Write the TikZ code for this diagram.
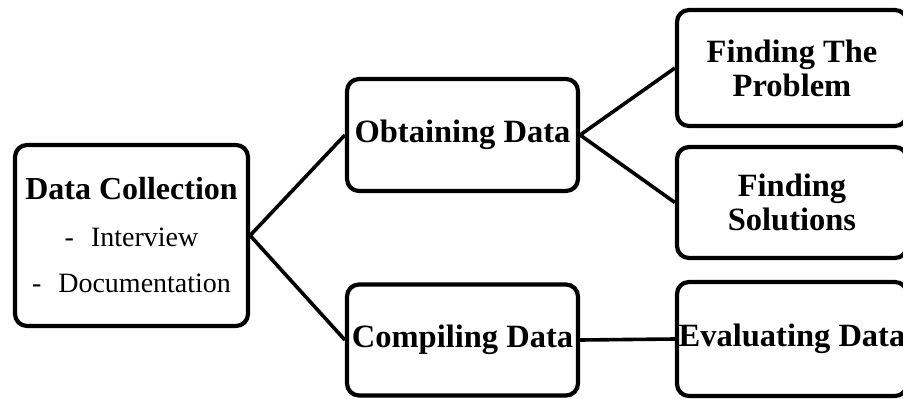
\documentclass[tikz,border=0pt]{standalone}
\usepackage{fontspec}
\setmainfont{Liberation Serif}
\begin{document}
\begin{tikzpicture}[x=1pt,y=-1pt,
  box/.style={draw=black, line width=4.2pt, rounded corners=12pt, fill=white,
    align=center, inner sep=0pt, font=\fontsize{32.5}{34}\selectfont\bfseries},
  link/.style={draw=black, line width=3.6pt}]
\useasboundingbox (0,0) rectangle (903,399);
\clip (0,0) rectangle (903,399);
\node[box, minimum width=233pt, minimum height=181pt, font=\fontsize{28}{46.5}\selectfont] (dc) at (131.5,235.5)
  {{\fontsize{32}{46.5}\selectfont\bfseries Data Collection}\\ -\hspace{17pt}Interview\\ -\hspace{17pt}Documentation};
\node[box, minimum width=231pt, minimum height=112pt] (ob) at (462.5,135) {Obtaining Data};
\node[box, minimum width=231pt, minimum height=111pt] (co) at (462.5,340) {Compiling Data};
\node[box, minimum width=230pt, minimum height=116pt] (fp) at (792,68) {Finding The\\Problem};
\node[box, minimum width=230pt, minimum height=111pt] (fs) at (792,202.5) {Finding\\Solutions};
\node[box, minimum width=230pt, minimum height=114pt] (ed) at (792,339) {Evaluating Data};
\draw[link] (dc.east) -- (ob.west);
\draw[link] (dc.east) -- (co.west);
\draw[link] (ob.east) -- (fp.west);
\draw[link] (ob.east) -- (fs.west);
\draw[link] (co.east) -- (ed.west);
\end{tikzpicture}
\end{document}
